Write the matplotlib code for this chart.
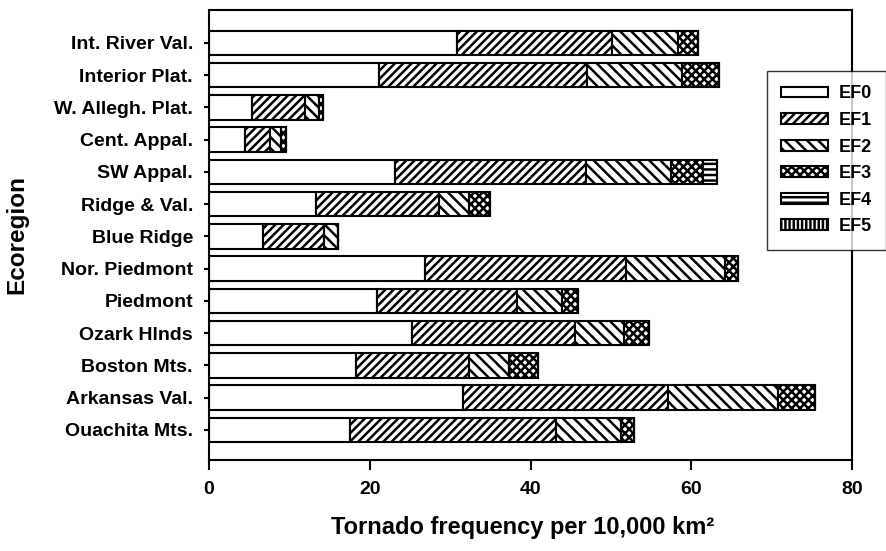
import numpy as np
import matplotlib
matplotlib.use("Agg")
import matplotlib.pyplot as plt

# ecoregions, listed bottom to top
regions = ["Ouachita Mts.", "Arkansas Val.", "Boston Mts.", "Ozark Hlnds", "Piedmont",
           "Nor. Piedmont", "Blue Ridge", "Ridge & Val.", "SW Appal.", "Cent. Appal.",
           "W. Allegh. Plat.", "Interior Plat.", "Int. River Val."]

# tornado frequency per 10,000 km^2 by EF rating
ef0 = [17.5, 31.6, 18.3, 25.2, 20.9, 26.9, 6.7, 13.3, 23.1, 4.5, 5.3, 21.1, 30.8]
ef1 = [25.7, 25.5, 14.1, 20.3, 17.4, 25.0, 7.6, 15.3, 23.8, 3.1, 6.6, 25.9, 19.4]
ef2 = [8.1, 13.7, 4.9, 6.1, 5.6, 12.3, 1.7, 3.8, 10.6, 1.4, 1.8, 11.9, 8.1]
ef3 = [1.6, 4.6, 3.6, 3.1, 2.0, 1.6, 0.0, 2.5, 3.9, 0.6, 0.5, 4.5, 2.6]
ef4 = [0.0, 0.0, 0.0, 0.0, 0.0, 0.0, 0.0, 0.0, 1.8, 0.0, 0.0, 0.0, 0.0]
ef5 = [0.0, 0.0, 0.0, 0.0, 0.0, 0.0, 0.0, 0.0, 0.0, 0.0, 0.0, 0.0, 0.0]

labels = ["EF0", "EF1", "EF2", "EF3", "EF4", "EF5"]
hatches = [None, "////", "\\\\\\", "xxxx", "---", "||||"]

plt.rcParams["font.family"] = ["Liberation Sans", "DejaVu Sans"]
plt.rcParams["font.weight"] = "bold"
plt.rcParams["hatch.linewidth"] = 1.8
plt.rcParams["hatch.color"] = "black"

fig = plt.figure(figsize=(8.87, 5.51), dpi=100)
ax = fig.add_axes([209 / 887, 1 - 460 / 551, (852 - 209) / 887, 450 / 551])

y = np.arange(len(regions))
left = np.zeros(len(regions))
for vals, lab, h in zip([ef0, ef1, ef2, ef3, ef4, ef5], labels, hatches):
    vals = np.array(vals)
    ax.barh(y, vals, left=left, height=0.76, color="white", edgecolor="black",
            linewidth=1.5, hatch=h, label=lab)
    left = left + vals

ax.set_xlim(0, 80)
ax.set_ylim(-0.93, 13.02)
ax.set_xticks([0, 20, 40, 60, 80])
ax.set_yticks(y)
ax.set_yticklabels(regions)

for s in ax.spines.values():
    s.set_linewidth(1.5)
ax.tick_params(axis="x", direction="out", length=7, width=1.5, labelsize=14, pad=8)
ax.tick_params(axis="y", direction="out", length=3.6, width=1.5, labelsize=14, pad=8)

ax.set_xlabel("Tornado frequency per 10,000 km²", fontsize=17, fontweight="bold")
ax.set_ylabel("Ecoregion", fontsize=17.5, fontweight="bold")
ax.xaxis.set_label_coords(0.487, -0.125)
ax.yaxis.set_label_coords(-0.2815, 0.5)

leg = fig.legend(loc="upper left", bbox_to_anchor=(767 / 887, 1 - 71 / 551),
                 fontsize=13, frameon=True, fancybox=False, edgecolor="black",
                 handlelength=2.6, handleheight=0.55, handletextpad=0.55,
                 labelspacing=0.53, borderpad=0.8, borderaxespad=0)
leg.get_frame().set_linewidth(1.0)

fig.savefig("out.png", dpi=100)
